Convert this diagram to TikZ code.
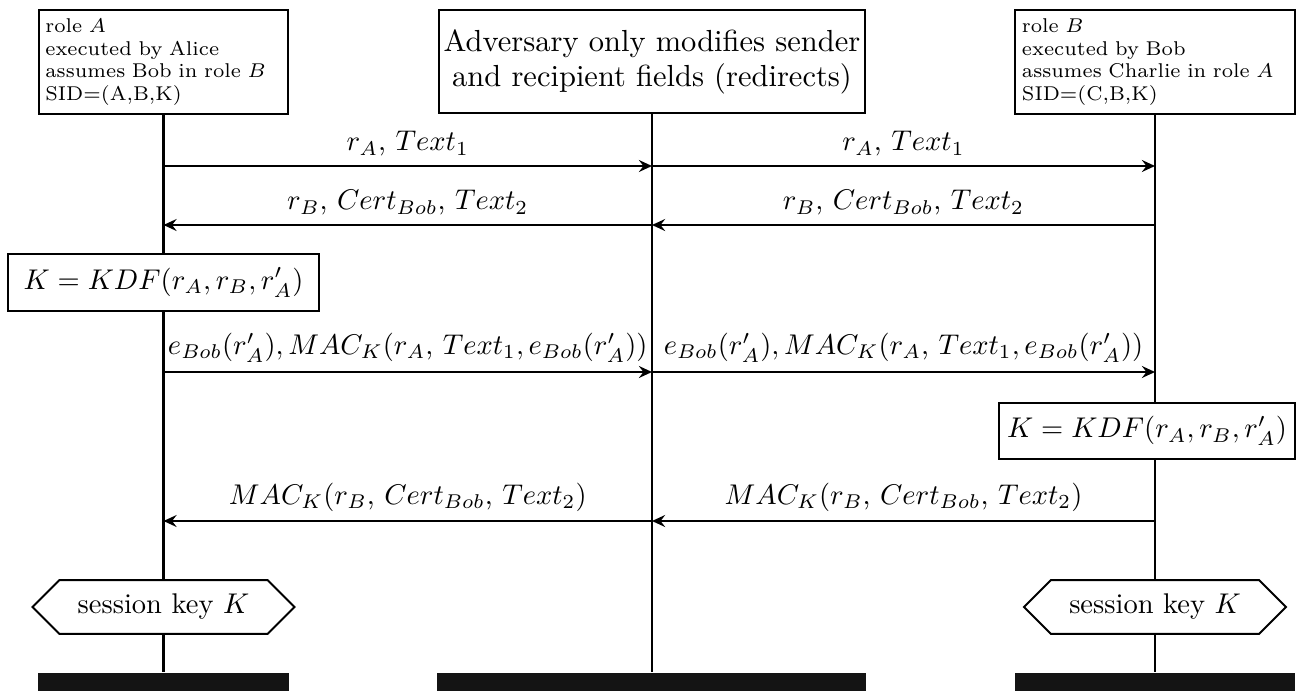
\documentclass[tikz,border=0pt]{standalone}
\usepackage{fontspec}
\usetikzlibrary{arrows.meta,shapes.symbols,backgrounds}
\begin{document}
\begin{tikzpicture}[x=0.3509pt,y=-0.3509pt,
  box/.style={draw,line width=0.7pt,fill=white},
  rolebox/.style={box,font=\scriptsize,align=left,inner xsep=2.4pt,inner ysep=2pt,minimum height=36.5pt},
  advbox/.style={box,align=center,inner sep=1.5pt,minimum width=149.8pt,minimum height=36.1pt,
    font=\fontsize{10.7}{12.3}\selectfont},
  kdf/.style={box,inner sep=0pt,minimum height=19.8pt},
  skey/.style={draw,line width=0.7pt,fill=white,shape=signal,signal to=west and east,
    inner sep=0pt,minimum height=18.9pt,minimum width=91.9pt},
  bar/.style={fill=black!92,inner sep=0pt,minimum height=6.3pt},
  life/.style={line width=0.85pt},
  msg/.style={line width=0.7pt,-{Stealth[length=4.6pt,width=4.2pt,inset=1.6pt]}},
  lbl/.style={above,inner sep=3pt}]
\useasboundingbox (0,0) rectangle (1309,691);

% role boxes
\node[rolebox,text width=82.9pt] (boxA) at (163.5,62)
  {role $A$\\executed by Alice\\assumes Bob in role $B$\\SID=(A,B,K)};
\node[advbox] (boxM) at (652,61.5)
  {Adversary only modifies sender\\and recipient fields (redirects)};
\node[rolebox,text width=93.4pt] (boxB) at (1155,62)
  {role $B$\\executed by Bob\\assumes Charlie in role $A$\\SID=(C,B,K)};

% bottom bars
\node[bar,minimum width=88.1pt] (barA) at (163.5,682) {};
\node[bar,minimum width=150.5pt] (barM) at (651.5,682) {};
\node[bar,minimum width=98.2pt] (barB) at (1155,682) {};

% key derivation boxes
\node[kdf,minimum width=108.8pt] (kdfA) at (163.5,282.5) {$K = KDF(r_A, r_B, r'_A)$};
\node[kdf,minimum width=103.9pt] (kdfB) at (1147,431) {$K = KDF(r_A, r_B, r'_A)$};

% session key
\node[skey] (skA) at (163.5,607) {session key $K$};
\node[skey] (skB) at (1155,607) {session key $K$};

% lifelines
\begin{scope}[on background layer]
\draw[life] (boxA.south) -- (barA.north);
\draw[life] (boxM.south) -- (boxM.south |- barM.north);
\draw[life] (boxB.south) -- (barB.north);
\end{scope}

% message end points
\coordinate (A1) at (boxA.south |- 0,166);
\coordinate (M1) at (boxM.south |- 0,166);
\coordinate (B1) at (boxB.south |- 0,166);
\coordinate (A2) at (boxA.south |- 0,225);
\coordinate (M2) at (boxM.south |- 0,225);
\coordinate (B2) at (boxB.south |- 0,225);
\coordinate (A3) at (boxA.south |- 0,372);
\coordinate (M3) at (boxM.south |- 0,372);
\coordinate (B3) at (boxB.south |- 0,372);
\coordinate (A4) at (boxA.south |- 0,521);
\coordinate (M4) at (boxM.south |- 0,521);
\coordinate (B4) at (boxB.south |- 0,521);

% messages
\draw[msg] (A1) -- node[lbl] (l1a) {$r_A$, $Text_1$} (M1);
\draw[msg] (M1) -- node[lbl] (l1b) {$r_A$, $Text_1$} (B1);
\draw[msg] (B2) -- node[lbl] (l2b) {$r_B$, $Cert_{Bob}$, $Text_2$} (M2);
\draw[msg] (M2) -- node[lbl] (l2a) {$r_B$, $Cert_{Bob}$, $Text_2$} (A2);
\draw[msg] (A3) -- node[lbl] (l3a) {$e_{Bob}(r'_A), MAC_K(r_A$, $Text_1, e_{Bob}(r'_A))$} (M3);
\draw[msg] (M3) -- node[lbl] (l3b) {$e_{Bob}(r'_A), MAC_K(r_A$, $Text_1, e_{Bob}(r'_A))$} (B3);
\draw[msg] (B4) -- node[lbl] (l4b) {$MAC_K(r_B$, $Cert_{Bob}$, $Text_2)$} (M4);
\draw[msg] (M4) -- node[lbl] (l4a) {$MAC_K(r_B$, $Cert_{Bob}$, $Text_2)$} (A4);
\end{tikzpicture}
\end{document}
